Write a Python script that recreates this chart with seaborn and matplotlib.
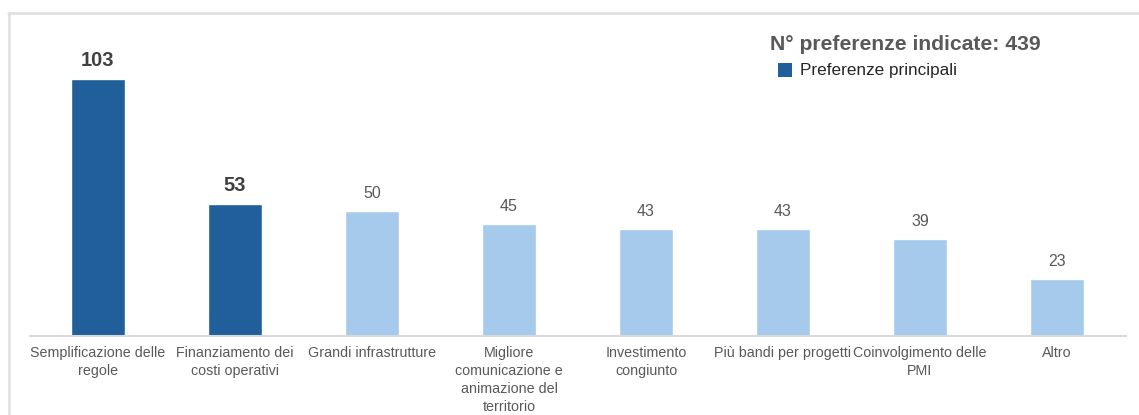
import matplotlib
matplotlib.use("Agg")
import matplotlib.pyplot as plt
from matplotlib.lines import Line2D
from matplotlib.patches import Rectangle
import seaborn as sns
import pandas as pd

categories = [
    "Semplificazione delle\nregole",
    "Finanziamento dei\ncosti operativi",
    "Grandi infrastrutture",
    "Migliore\ncomunicazione e\nanimazione del\nterritorio",
    "Investimento\ncongiunto",
    "Più bandi per progetti",
    "Coinvolgimento delle\nPMI",
    "Altro",
]
values = [103, 53, 50, 45, 43, 43, 39, 23]
groups = ["principale", "principale", "altra", "altra", "altra", "altra", "altra", "altra"]
total_label = "N° preferenze indicate: 439"
legend_label = "Preferenze principali"

dark_blue = "#215f9a"
light_blue = "#a6caec"
text_grey = "#595959"
value_dark = "#404040"

sns.set_theme(style="white")
plt.rcParams["font.family"] = ["Liberation Sans", "DejaVu Sans"]

df = pd.DataFrame({"categoria": categories, "valore": values, "gruppo": groups})

W, H = 1139, 415
fig = plt.figure(figsize=(W / 100, H / 100), dpi=100)
ax_left, ax_right = 29.5, 1125.5
base_y = 336
ymax = 120
px_per_unit = 257 / 103
top_y = base_y - ymax * px_per_unit
ax = fig.add_axes([ax_left / W, (H - base_y) / H, (ax_right - ax_left) / W, (base_y - top_y) / H])

sns.barplot(
    data=df, x="categoria", y="valore", hue="gruppo",
    palette={"principale": dark_blue, "altra": light_blue},
    width=0.4, dodge=False, legend=False, ax=ax, saturation=1,
)
ax.set_ylim(0, ymax)
ax.set_xlim(-0.5, len(categories) - 0.5)
ax.set_xlabel("")
ax.set_ylabel("")
ax.set_yticks([])
for side in ["top", "right", "left"]:
    ax.spines[side].set_visible(False)
ax.spines["bottom"].set_color("#d9d9d9")
ax.spines["bottom"].set_linewidth(1.5)
ax.tick_params(axis="x", length=0, pad=7, labelsize=10.3, labelcolor=text_grey)
for lbl in ax.get_xticklabels():
    lbl.set_multialignment("center")
    lbl.set_linespacing(1.36)

for i, (v, g) in enumerate(zip(values, groups)):
    if g == "principale":
        ax.text(i, v + 3.5, str(v), ha="center", va="bottom", fontsize=14.5,
                fontweight="bold", color=value_dark)
    else:
        ax.text(i, v + 4, str(v), ha="center", va="bottom", fontsize=11.5,
                color=text_grey)

fig.text(770 / W, 1 - 44 / H, total_label, ha="left", va="center",
         fontsize=15.2, fontweight="bold", color=text_grey)
fig.add_artist(Rectangle((778 / W, 1 - 77 / H), 14 / W, 14 / H,
                         transform=fig.transFigure, facecolor=dark_blue,
                         edgecolor="none"))
fig.text(800 / W, 1 - 70 / H, legend_label, ha="left", va="center",
         fontsize=12.3, color="#262626")

# outer frame of the chart area
fig.add_artist(Line2D([8 / W, 1], [1 - 13 / H, 1 - 13 / H], transform=fig.transFigure,
                      color="#dedede", linewidth=1.8))
fig.add_artist(Line2D([9 / W, 9 / W], [0, 1 - 13 / H], transform=fig.transFigure,
                      color="#dedede", linewidth=1.8))

fig.savefig("out.png", dpi=100)
